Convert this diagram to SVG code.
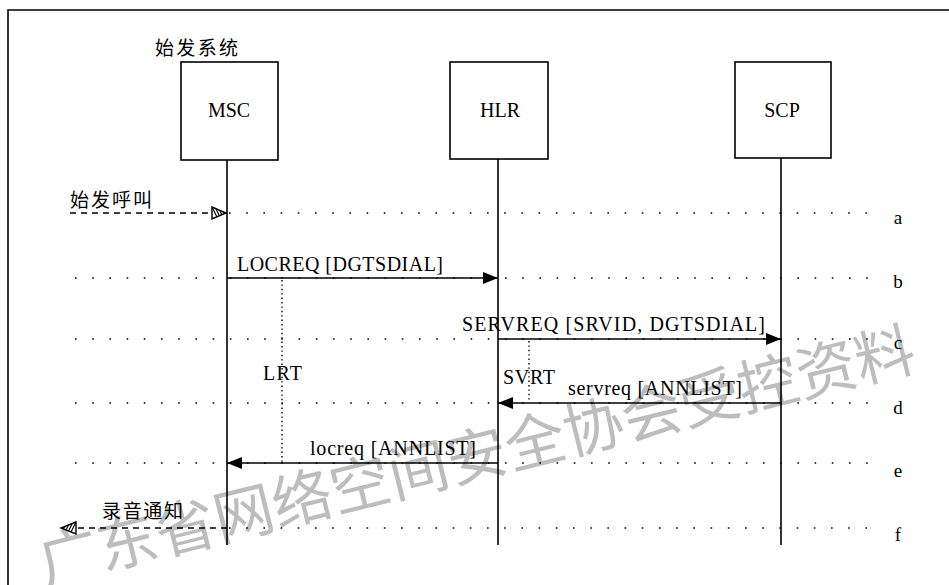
<svg xmlns="http://www.w3.org/2000/svg" width="949" height="585" viewBox="0 0 949 585">
<style>
.box{fill:#fff;stroke:#000;stroke-width:1.6}
.life{stroke:#000;stroke-width:1.6;fill:none}
.dot{stroke:#000;stroke-width:1.6;stroke-dasharray:1.6 15.6;fill:none}
.vdot{stroke:#000;stroke-width:1.4;stroke-dasharray:1.4 3;fill:none}
.dash{stroke:#000;stroke-width:1.3;stroke-dasharray:6 5;fill:none}
.msg{stroke:#000;stroke-width:1.4;fill:none}
.lbl{font-family:"Liberation Serif","Times New Roman",serif;font-size:20px;fill:#000}
.node{font-family:"Liberation Serif","Times New Roman",serif;font-size:20px;fill:#000;text-anchor:middle}
.cjk{font-family:"Liberation Sans","Noto Sans CJK SC",sans-serif;font-size:19px;fill:#000}
.row{font-family:"Liberation Serif","Times New Roman",serif;font-size:19px;fill:#000;text-anchor:middle}
.wm{font-family:"Noto Sans CJK SC",sans-serif;font-size:60px;fill:#bdbdbd}
.tri{fill:#fff;stroke:#000;stroke-width:1.4}
.hl{stroke:#000;stroke-width:1.1}
</style>
<defs>
<marker id="arr" markerUnits="userSpaceOnUse" markerWidth="16" markerHeight="14" refX="15" refY="7" orient="auto">
<path d="M0,1 L15,7 L0,13 Z" fill="#000"/>
</marker>
<clipPath id="clipA"><path d="M212,207 L226,213 L212,219 Z"/></clipPath>
<clipPath id="clipF"><path d="M76,522 L61,528 L76,534 Z"/></clipPath>
</defs>
<rect width="949" height="585" fill="#fff"/>
<g id="watermark">
<text class="wm" x="45" y="585" transform="rotate(-13.9 45 585)">广东省网络空间安全协会受控资料</text>
</g>
<g id="frame">
<path d="M8,585 L8,10 L949,10" fill="none" stroke="#000" stroke-width="1.6"/>
</g>
<g id="rows">
<line class="dash" x1="70" y1="213" x2="213" y2="213"/>
<line class="dot" x1="229" y1="213" x2="874" y2="213"/>
<line class="dot" x1="75" y1="278" x2="874" y2="278"/>
<line class="dot" x1="75" y1="339" x2="874" y2="339"/>
<line class="dot" x1="75" y1="403" x2="874" y2="403"/>
<line class="dot" x1="75" y1="463" x2="874" y2="463"/>
<line class="dash" x1="78" y1="528" x2="227" y2="528"/>
<line class="dot" x1="229" y1="528" x2="874" y2="528"/>
<text class="row" x="898" y="224">a</text>
<text class="row" x="898" y="288">b</text>
<text class="row" x="898" y="349">c</text>
<text class="row" x="898" y="414">d</text>
<text class="row" x="898" y="477">e</text>
<text class="row" x="898" y="541">f</text>
</g>
<g id="MSC">
<text class="cjk" x="155" y="55" textLength="83">始发系统</text>
<rect class="box" x="181" y="62" width="97" height="98"/>
<text class="node" x="229" y="117">MSC</text>
<line class="life" x1="227" y1="160" x2="227" y2="545"/>
</g>
<g id="HLR">
<rect class="box" x="450" y="62" width="98" height="97"/>
<text class="node" x="500" y="117">HLR</text>
<line class="life" x1="498" y1="159" x2="498" y2="545"/>
</g>
<g id="SCP">
<rect class="box" x="735" y="62" width="96" height="96"/>
<text class="node" x="782" y="117">SCP</text>
<line class="life" x1="781" y1="158" x2="781" y2="545"/>
</g>
<g id="connectors">
<path class="tri" d="M212,207 L226,213 L212,219 Z"/>
<g clip-path="url(#clipA)">
<line class="hl" x1="211" y1="205" x2="219" y2="221"/>
<line class="hl" x1="214" y1="205" x2="222" y2="221"/>
<line class="hl" x1="217" y1="205" x2="225" y2="221"/>
<line class="hl" x1="220" y1="205" x2="228" y2="221"/>
</g>
<text class="cjk" x="70" y="207" textLength="82">始发呼叫</text>
<line class="msg" x1="227" y1="278" x2="498" y2="278" marker-end="url(#arr)"/>
<text class="lbl" x="237" y="271" textLength="206">LOCREQ [DGTSDIAL]</text>
<line class="vdot" x1="282" y1="280" x2="282" y2="462"/>
<text class="lbl" x="263" y="380" textLength="39">LRT</text>
<line class="msg" x1="498" y1="339" x2="781" y2="339" marker-end="url(#arr)"/>
<text class="lbl" x="462" y="331" textLength="303">SERVREQ [SRVID, DGTSDIAL]</text>
<line class="vdot" x1="529" y1="341" x2="529" y2="402"/>
<text class="lbl" x="503" y="384" textLength="52">SVRT</text>
<line class="msg" x1="781" y1="403" x2="498" y2="403" marker-end="url(#arr)"/>
<text class="lbl" x="568" y="395" textLength="174">servreq [ANNLIST]</text>
<line class="msg" x1="498" y1="463" x2="227" y2="463" marker-end="url(#arr)"/>
<text class="lbl" x="310" y="455" textLength="166">locreq [ANNLIST]</text>
<path class="tri" d="M76,522 L61,528 L76,534 Z"/>
<g clip-path="url(#clipF)">
<line class="hl" x1="74" y1="520" x2="66" y2="536"/>
<line class="hl" x1="71" y1="520" x2="63" y2="536"/>
<line class="hl" x1="68" y1="520" x2="60" y2="536"/>
<line class="hl" x1="77" y1="520" x2="69" y2="536"/>
</g>
<text class="cjk" x="102" y="518" textLength="81">录音通知</text>
</g>
</svg>
